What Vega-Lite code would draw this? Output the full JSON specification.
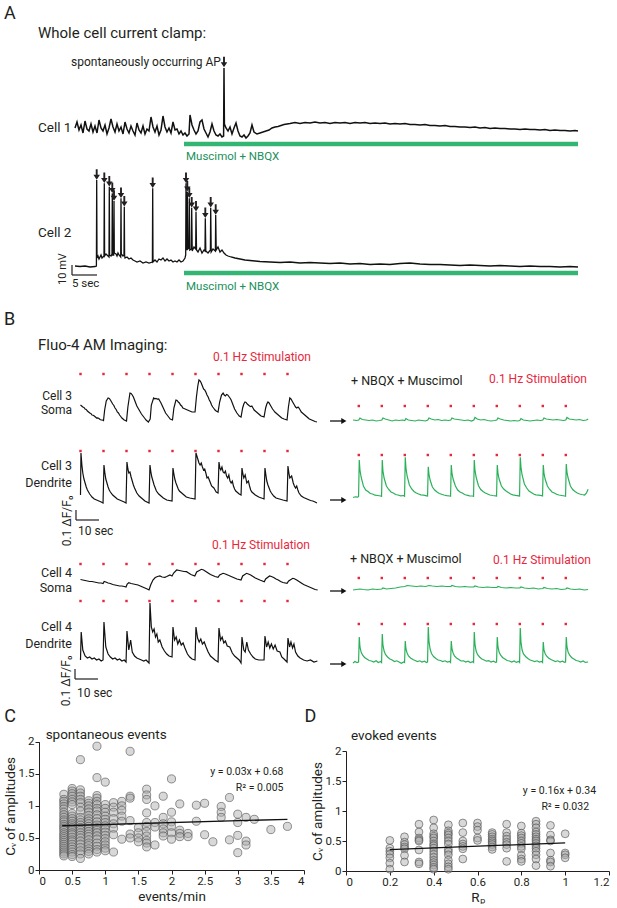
{
"$schema":"https://vega.github.io/schema/vega-lite/v6.json",
"padding":0,"background":"white","bounds":"flush","spacing":0,
"config":{"view":{"stroke":null},"font":"Roboto","concat":{"spacing":0},
"axis":{"domainColor":"#231f20","tickColor":"#231f20","labelColor":"#231f20","titleColor":"#231f20","labelFontSize":11.5,"titleFontSize":13.5,"titleFontWeight":"normal","tickSize":4,"labelPadding":1,"grid":false},
"axisY":{"titlePadding":1},"axisX":{"titlePadding":2.5}},
"datasets":{
"cell1":[{"t":0,"v":2},{"t":0.4,"v":8},{"t":0.8,"v":0},{"t":1.2,"v":5},{"t":1.6,"v":-3},{"t":2,"v":9},{"t":2.4,"v":1},{"t":2.8,"v":-1},{"t":3.2,"v":6},{"t":3.6,"v":-2},{"t":4,"v":4},{"t":4.4,"v":-3},{"t":4.8,"v":10},{"t":5.2,"v":2},{"t":5.6,"v":-1},{"t":6,"v":5},{"t":6.4,"v":-4},{"t":6.8,"v":2},{"t":7.2,"v":11},{"t":7.6,"v":3},{"t":8,"v":-2},{"t":8.4,"v":6},{"t":8.8,"v":-1},{"t":9.2,"v":3},{"t":9.6,"v":-4},{"t":10,"v":8},{"t":10.4,"v":1},{"t":10.8,"v":-3},{"t":11.2,"v":4},{"t":11.6,"v":-1},{"t":12,"v":-5},{"t":12.4,"v":7},{"t":12.8,"v":0},{"t":13.2,"v":-3},{"t":13.6,"v":4},{"t":14,"v":-4},{"t":14.4,"v":1},{"t":14.8,"v":-1},{"t":15.2,"v":13},{"t":15.6,"v":3},{"t":16,"v":-2},{"t":16.4,"v":4},{"t":16.8,"v":-5},{"t":17.2,"v":0},{"t":17.6,"v":14},{"t":18,"v":3},{"t":18.4,"v":-2},{"t":18.8,"v":2},{"t":19.2,"v":-3},{"t":19.6,"v":8},{"t":20,"v":0},{"t":20.4,"v":1},{"t":20.8,"v":-4},{"t":21.2,"v":-1},{"t":21.6,"v":-5},{"t":22,"v":-3},{"t":22.4,"v":-6},{"t":22.8,"v":-4},{"t":23,"v":15},{"t":23.4,"v":5},{"t":23.8,"v":0},{"t":24.2,"v":-4},{"t":24.6,"v":-1},{"t":25,"v":8},{"t":25.4,"v":10},{"t":25.8,"v":1},{"t":26.2,"v":-3},{"t":26.6,"v":-7},{"t":27,"v":-2},{"t":27.4,"v":6},{"t":27.8,"v":-1},{"t":28.2,"v":-5},{"t":28.6,"v":-6},{"t":29,"v":-4},{"t":29.4,"v":-7},{"t":29.72,"v":-6},{"t":29.8,"v":62},{"t":29.88,"v":6},{"t":30.2,"v":2},{"t":30.6,"v":-1},{"t":31,"v":3},{"t":31.4,"v":-4},{"t":31.8,"v":2},{"t":32.2,"v":7},{"t":32.6,"v":-1},{"t":33,"v":-6},{"t":33.4,"v":-7},{"t":33.8,"v":-5},{"t":34.2,"v":-8},{"t":34.6,"v":-6},{"t":35,"v":-3},{"t":35.4,"v":5},{"t":35.8,"v":-2},{"t":36.4,"v":-4},{"t":37,"v":-3},{"t":37.6,"v":-2},{"t":38.2,"v":-1},{"t":38.8,"v":0},{"t":39.4,"v":2},{"t":40,"v":3},{"t":40.6,"v":3.5},{"t":41.2,"v":4.5},{"t":41.8,"v":5.5},{"t":42.4,"v":6},{"t":43,"v":6.5},{"t":44,"v":7.5},{"t":45,"v":6.5},{"t":46,"v":7.5},{"t":47,"v":7},{"t":48,"v":8},{"t":49,"v":7},{"t":50,"v":7.5},{"t":51,"v":6.5},{"t":52,"v":7.5},{"t":53,"v":7},{"t":54,"v":7.5},{"t":55,"v":6.5},{"t":56,"v":7.5},{"t":57,"v":7},{"t":58,"v":7.5},{"t":59,"v":6.5},{"t":60,"v":7},{"t":61,"v":6.5},{"t":62,"v":7},{"t":63,"v":6},{"t":64,"v":6.5},{"t":65,"v":6},{"t":66,"v":6.5},{"t":67,"v":5.5},{"t":68,"v":5.5},{"t":69,"v":5},{"t":70,"v":5.5},{"t":71,"v":4.5},{"t":72,"v":4.5},{"t":73,"v":4},{"t":74,"v":4.5},{"t":75,"v":3.5},{"t":76,"v":3.5},{"t":77,"v":3},{"t":78,"v":3},{"t":79,"v":2.5},{"t":80,"v":3},{"t":81,"v":2},{"t":82,"v":2.5},{"t":83,"v":1.5},{"t":84,"v":2},{"t":85,"v":1.5},{"t":86,"v":1.5},{"t":87,"v":1},{"t":88,"v":1},{"t":89,"v":0.5},{"t":90,"v":1},{"t":91,"v":0.5},{"t":92,"v":0.5},{"t":93,"v":0},{"t":94,"v":0.5},{"t":95,"v":-0.5},{"t":96,"v":0},{"t":97,"v":-0.5},{"t":98,"v":-0.5},{"t":99,"v":-1},{"t":100,"v":-0.5},{"t":100.6,"v":-1}],
"cell2":[{"t":0,"v":0},{"t":1,"v":-0.5},{"t":2,"v":0},{"t":3,"v":-1},{"t":4,"v":-0.5},{"t":4.28,"v":0},{"t":4.34,"v":86},{"t":4.4,"v":8},{"t":4.6,"v":10},{"t":4.8,"v":7},{"t":5,"v":9},{"t":5.2,"v":11},{"t":5.4,"v":8},{"t":5.8,"v":10},{"t":5.86,"v":82.7},{"t":5.92,"v":10},{"t":6.2,"v":12},{"t":6.4,"v":11},{"t":6.8,"v":9},{"t":6.86,"v":79.3},{"t":6.92,"v":11},{"t":7.2,"v":10},{"t":7.4,"v":12},{"t":7.46,"v":72.7},{"t":7.52,"v":11},{"t":7.74,"v":11},{"t":7.8,"v":65},{"t":7.86,"v":13},{"t":8.2,"v":12},{"t":8.4,"v":10},{"t":8.6,"v":13},{"t":8.8,"v":11},{"t":9.14,"v":9},{"t":9.2,"v":67.7},{"t":9.26,"v":12},{"t":9.6,"v":10},{"t":9.8,"v":11},{"t":9.86,"v":59.3},{"t":9.92,"v":11},{"t":10,"v":8},{"t":10.4,"v":9},{"t":10.8,"v":7},{"t":11.2,"v":8},{"t":11.6,"v":6},{"t":12,"v":5},{"t":12.4,"v":4},{"t":13,"v":5},{"t":13.6,"v":3},{"t":14.2,"v":4},{"t":14.8,"v":3},{"t":15.48,"v":4},{"t":15.54,"v":77.7},{"t":15.6,"v":4},{"t":16,"v":6},{"t":16.4,"v":4},{"t":16.8,"v":7},{"t":17.2,"v":6},{"t":17.6,"v":8},{"t":18,"v":5},{"t":18.4,"v":7},{"t":18.8,"v":5},{"t":19.2,"v":6},{"t":19.6,"v":4},{"t":20,"v":5},{"t":20.4,"v":4},{"t":20.8,"v":6},{"t":21.2,"v":4},{"t":21.6,"v":5},{"t":22,"v":8},{"t":22.14,"v":11},{"t":22.2,"v":82.7},{"t":22.3,"v":18},{"t":22.4,"v":16},{"t":22.46,"v":74.3},{"t":22.56,"v":17},{"t":22.8,"v":18},{"t":22.86,"v":67.7},{"t":22.96,"v":16},{"t":23.28,"v":17},{"t":23.34,"v":58.3},{"t":23.44,"v":15},{"t":23.8,"v":19},{"t":24.14,"v":17},{"t":24.2,"v":54.3},{"t":24.3,"v":16},{"t":24.6,"v":14},{"t":25,"v":18},{"t":25.4,"v":13},{"t":25.8,"v":16},{"t":26,"v":15},{"t":26.06,"v":47.7},{"t":26.16,"v":15},{"t":26.6,"v":13},{"t":27.08,"v":16},{"t":27.14,"v":58.3},{"t":27.24,"v":14},{"t":27.6,"v":17},{"t":28.08,"v":15},{"t":28.14,"v":51},{"t":28.24,"v":16},{"t":28.6,"v":19},{"t":29,"v":14},{"t":29.4,"v":16},{"t":29.8,"v":13},{"t":30.2,"v":11},{"t":30.6,"v":10},{"t":31.2,"v":9},{"t":32,"v":8},{"t":33,"v":7},{"t":34,"v":6},{"t":35,"v":5.5},{"t":36,"v":5},{"t":37,"v":4.5},{"t":39,"v":4},{"t":41,"v":3.5},{"t":43,"v":4},{"t":45,"v":3},{"t":47,"v":3.5},{"t":49,"v":3},{"t":51,"v":2.5},{"t":53,"v":3},{"t":55,"v":2},{"t":57,"v":2.5},{"t":59,"v":1.5},{"t":61,"v":2},{"t":63,"v":1.5},{"t":65,"v":2.5},{"t":67,"v":3},{"t":69,"v":2},{"t":71,"v":1.5},{"t":73,"v":1.5},{"t":75,"v":1},{"t":77,"v":0.5},{"t":79,"v":1},{"t":81,"v":0.5},{"t":83,"v":0},{"t":85,"v":0.5},{"t":87,"v":0},{"t":89,"v":-0.5},{"t":91,"v":0},{"t":93,"v":-0.5},{"t":95,"v":-0.5},{"t":97,"v":-1},{"t":99,"v":-0.5},{"t":100.6,"v":-1}],
"ap1":[{"t":29.8,"v":62}],
"ap2":[{"t":4.34,"v":86},{"t":5.86,"v":82.7},{"t":6.86,"v":79.3},{"t":7.46,"v":72.7},{"t":7.8,"v":65},{"t":9.2,"v":67.7},{"t":9.86,"v":59.3},{"t":15.54,"v":77.7},{"t":22.2,"v":82.7},{"t":22.46,"v":74.3},{"t":22.86,"v":67.7},{"t":23.34,"v":58.3},{"t":24.2,"v":54.3},{"t":26.06,"v":47.7},{"t":27.14,"v":58.3},{"t":28.14,"v":51}],
"drug":[{"start":21.8,"end":100.6}],
"stim":[{"t":0,"p":"pre"},{"t":10,"p":"pre"},{"t":20,"p":"pre"},{"t":30,"p":"pre"},{"t":40,"p":"pre"},{"t":50,"p":"pre"},{"t":60,"p":"pre"},{"t":70,"p":"pre"},{"t":80,"p":"pre"},{"t":90,"p":"pre"},{"t":121,"p":"post"},{"t":131,"p":"post"},{"t":141,"p":"post"},{"t":151,"p":"post"},{"t":161,"p":"post"},{"t":171,"p":"post"},{"t":181,"p":"post"},{"t":191,"p":"post"},{"t":201,"p":"post"},{"t":211,"p":"post"}],
"c3s":[{"t":0,"f":0.17},{"t":0.5,"f":0.16},{"t":1,"f":0.15},{"t":1.5,"f":0.145},{"t":2,"f":0.13},{"t":2.5,"f":0.125},{"t":3,"f":0.11},{"t":3.5,"f":0.1},{"t":4,"f":0.09},{"t":4.5,"f":0.085},{"t":5,"f":0.07},{"t":5.5,"f":0.068},{"t":6,"f":0.06},{"t":6.5,"f":0.05},{"t":7,"f":0.04},{"t":7.5,"f":0.042},{"t":8,"f":0.035},{"t":8.5,"f":0.025},{"t":9,"f":0.02},{"t":9.5,"f":0.02},{"t":10,"f":0.015},{"t":10.5,"f":0.12},{"t":11.2,"f":0.21},{"t":12,"f":0.24},{"t":12.5,"f":0.235},{"t":13,"f":0.22},{"t":13.5,"f":0.2},{"t":14,"f":0.18},{"t":14.5,"f":0.165},{"t":15,"f":0.14},{"t":15.5,"f":0.125},{"t":16,"f":0.1},{"t":16.5,"f":0.09},{"t":17,"f":0.07},{"t":17.5,"f":0.055},{"t":18,"f":0.04},{"t":18.5,"f":0.03},{"t":19,"f":0.02},{"t":19.5,"f":0.015},{"t":20,"f":0.01},{"t":20.6,"f":0.15},{"t":21.5,"f":0.29},{"t":22,"f":0.285},{"t":22.5,"f":0.27},{"t":23,"f":0.25},{"t":23.5,"f":0.22},{"t":24,"f":0.19},{"t":24.5,"f":0.16},{"t":25,"f":0.14},{"t":25.5,"f":0.12},{"t":26,"f":0.1},{"t":26.5,"f":0.08},{"t":27,"f":0.065},{"t":27.5,"f":0.05},{"t":28,"f":0.035},{"t":28.5,"f":0.02},{"t":29,"f":0.01},{"t":29.5,"f":0},{"t":30.3,"f":0.03},{"t":30.8,"f":0.17},{"t":31.8,"f":0.24},{"t":32.3,"f":0.232},{"t":32.8,"f":0.235},{"t":33.4,"f":0.228},{"t":34,"f":0.23},{"t":34.5,"f":0.21},{"t":35,"f":0.19},{"t":35.5,"f":0.165},{"t":36,"f":0.14},{"t":36.5,"f":0.115},{"t":37,"f":0.09},{"t":37.5,"f":0.075},{"t":38,"f":0.06},{"t":38.5,"f":0.045},{"t":39,"f":0.03},{"t":39.5,"f":0.025},{"t":40,"f":0.02},{"t":40.6,"f":0.14},{"t":41.5,"f":0.22},{"t":42,"f":0.215},{"t":42.5,"f":0.2},{"t":43,"f":0.19},{"t":43.5,"f":0.17},{"t":44,"f":0.16},{"t":44.5,"f":0.14},{"t":45,"f":0.135},{"t":45.5,"f":0.13},{"t":46,"f":0.125},{"t":46.5,"f":0.12},{"t":47,"f":0.115},{"t":47.5,"f":0.11},{"t":48,"f":0.105},{"t":48.5,"f":0.1},{"t":49.2,"f":0.1},{"t":49.8,"f":0.1},{"t":50.4,"f":0.25},{"t":51,"f":0.36},{"t":51.5,"f":0.42},{"t":52,"f":0.41},{"t":52.5,"f":0.39},{"t":53,"f":0.36},{"t":53.5,"f":0.33},{"t":54,"f":0.32},{"t":54.5,"f":0.3},{"t":55,"f":0.27},{"t":55.5,"f":0.25},{"t":56,"f":0.22},{"t":56.5,"f":0.2},{"t":57,"f":0.17},{"t":57.5,"f":0.15},{"t":58,"f":0.135},{"t":58.5,"f":0.12},{"t":59,"f":0.11},{"t":59.8,"f":0.1},{"t":60.5,"f":0.2},{"t":61.3,"f":0.27},{"t":62,"f":0.29},{"t":62.5,"f":0.27},{"t":63,"f":0.26},{"t":63.5,"f":0.275},{"t":64,"f":0.27},{"t":64.5,"f":0.255},{"t":65,"f":0.24},{"t":65.5,"f":0.22},{"t":66,"f":0.19},{"t":66.5,"f":0.16},{"t":67,"f":0.13},{"t":67.5,"f":0.11},{"t":68,"f":0.09},{"t":68.5,"f":0.075},{"t":69,"f":0.06},{"t":69.8,"f":0.05},{"t":70.5,"f":0.14},{"t":71,"f":0.18},{"t":71.5,"f":0.2},{"t":72,"f":0.195},{"t":72.5,"f":0.18},{"t":73,"f":0.17},{"t":73.5,"f":0.16},{"t":74,"f":0.155},{"t":74.5,"f":0.16},{"t":75,"f":0.14},{"t":75.5,"f":0.12},{"t":76,"f":0.11},{"t":76.5,"f":0.1},{"t":77,"f":0.09},{"t":77.5,"f":0.08},{"t":78,"f":0.07},{"t":78.5,"f":0.06},{"t":79.2,"f":0.055},{"t":79.8,"f":0.05},{"t":80.5,"f":0.14},{"t":81,"f":0.18},{"t":81.5,"f":0.2},{"t":82,"f":0.19},{"t":82.5,"f":0.17},{"t":83,"f":0.15},{"t":83.5,"f":0.13},{"t":84,"f":0.115},{"t":84.5,"f":0.1},{"t":85,"f":0.09},{"t":85.5,"f":0.08},{"t":86,"f":0.07},{"t":86.5,"f":0.06},{"t":87,"f":0.05},{"t":87.5,"f":0.04},{"t":88,"f":0.035},{"t":88.5,"f":0.03},{"t":89.2,"f":0.025},{"t":89.8,"f":0.02},{"t":90.4,"f":0.15},{"t":91,"f":0.24},{"t":91.5,"f":0.23},{"t":92,"f":0.21},{"t":92.5,"f":0.19},{"t":93,"f":0.17},{"t":93.5,"f":0.15},{"t":94,"f":0.14},{"t":94.6,"f":0.15},{"t":95,"f":0.14},{"t":95.5,"f":0.12},{"t":96,"f":0.1},{"t":96.5,"f":0.09},{"t":97,"f":0.08},{"t":97.5,"f":0.07},{"t":98,"f":0.06},{"t":98.5,"f":0.05},{"t":99,"f":0.04},{"t":99.5,"f":0.03},{"t":100,"f":0.025},{"t":100.5,"f":0.02},{"t":101,"f":0.015},{"t":101.5,"f":0.01},{"t":102,"f":0.005},{"t":102.8,"f":0}],
"c3d":[{"t":0,"f":0.08},{"t":0.2,"f":0.5},{"t":0.6,"f":0.38},{"t":1,"f":0.3},{"t":1.5,"f":0.24},{"t":2,"f":0.2},{"t":2.5,"f":0.16},{"t":3,"f":0.13},{"t":3.5,"f":0.11},{"t":4,"f":0.09},{"t":4.5,"f":0.075},{"t":5,"f":0.06},{"t":6,"f":0.04},{"t":7,"f":0.03},{"t":8,"f":0.02},{"t":9,"f":0.01},{"t":9.8,"f":0},{"t":10.2,"f":0.38},{"t":10.6,"f":0.3},{"t":11,"f":0.24},{"t":11.5,"f":0.2},{"t":12,"f":0.16},{"t":12.5,"f":0.13},{"t":13,"f":0.11},{"t":14,"f":0.08},{"t":15,"f":0.06},{"t":16,"f":0.04},{"t":17,"f":0.03},{"t":18,"f":0.02},{"t":19,"f":0.01},{"t":19.8,"f":0},{"t":20.2,"f":0.41},{"t":20.6,"f":0.34},{"t":21,"f":0.3},{"t":21.5,"f":0.31},{"t":22,"f":0.26},{"t":22.5,"f":0.22},{"t":23,"f":0.18},{"t":23.5,"f":0.15},{"t":24.5,"f":0.1},{"t":25.5,"f":0.07},{"t":26.5,"f":0.05},{"t":28,"f":0.02},{"t":29.8,"f":0},{"t":30.2,"f":0.38},{"t":30.6,"f":0.31},{"t":31,"f":0.26},{"t":31.5,"f":0.22},{"t":32,"f":0.18},{"t":32.5,"f":0.15},{"t":33,"f":0.12},{"t":34,"f":0.09},{"t":35,"f":0.07},{"t":36,"f":0.05},{"t":37.5,"f":0.03},{"t":39.8,"f":0.02},{"t":40.2,"f":0.35},{"t":40.6,"f":0.29},{"t":41,"f":0.24},{"t":41.5,"f":0.2},{"t":42,"f":0.17},{"t":42.5,"f":0.14},{"t":43,"f":0.12},{"t":44,"f":0.1},{"t":45,"f":0.08},{"t":46,"f":0.06},{"t":47.5,"f":0.05},{"t":49.8,"f":0.04},{"t":50.2,"f":0.5},{"t":50.6,"f":0.47},{"t":51,"f":0.44},{"t":51.5,"f":0.4},{"t":52,"f":0.38},{"t":52.5,"f":0.4},{"t":53,"f":0.36},{"t":53.5,"f":0.33},{"t":54,"f":0.34},{"t":54.5,"f":0.3},{"t":55,"f":0.25},{"t":55.5,"f":0.26},{"t":56,"f":0.23},{"t":56.5,"f":0.2},{"t":57,"f":0.17},{"t":57.5,"f":0.16},{"t":58,"f":0.15},{"t":58.5,"f":0.13},{"t":59,"f":0.11},{"t":59.8,"f":0.1},{"t":60.2,"f":0.41},{"t":60.6,"f":0.35},{"t":61,"f":0.33},{"t":61.5,"f":0.36},{"t":62,"f":0.31},{"t":62.5,"f":0.3},{"t":63,"f":0.32},{"t":63.5,"f":0.27},{"t":64,"f":0.25},{"t":64.5,"f":0.28},{"t":65,"f":0.22},{"t":65.5,"f":0.2},{"t":66,"f":0.22},{"t":66.5,"f":0.17},{"t":67,"f":0.14},{"t":67.5,"f":0.12},{"t":68,"f":0.11},{"t":69,"f":0.09},{"t":69.8,"f":0.08},{"t":70.2,"f":0.35},{"t":70.6,"f":0.29},{"t":71,"f":0.25},{"t":71.6,"f":0.28},{"t":72.3,"f":0.2},{"t":73,"f":0.22},{"t":73.5,"f":0.17},{"t":74,"f":0.13},{"t":74.5,"f":0.11},{"t":75,"f":0.1},{"t":76,"f":0.08},{"t":77.5,"f":0.06},{"t":79.8,"f":0.04},{"t":80.2,"f":0.35},{"t":80.6,"f":0.28},{"t":81,"f":0.22},{"t":81.5,"f":0.18},{"t":82,"f":0.15},{"t":82.5,"f":0.12},{"t":83,"f":0.1},{"t":84,"f":0.07},{"t":85,"f":0.05},{"t":86.5,"f":0.04},{"t":88,"f":0.03},{"t":89.8,"f":0.02},{"t":90.2,"f":0.37},{"t":90.6,"f":0.3},{"t":91,"f":0.25},{"t":91.8,"f":0.27},{"t":92.5,"f":0.2},{"t":93,"f":0.17},{"t":93.5,"f":0.15},{"t":94,"f":0.17},{"t":94.5,"f":0.13},{"t":95,"f":0.1},{"t":96,"f":0.07},{"t":97,"f":0.055},{"t":98,"f":0.045},{"t":99,"f":0.035},{"t":100,"f":0.025},{"t":101,"f":0.02},{"t":102,"f":0.01},{"t":102.8,"f":0}],
"c4s":[{"t":0,"f":0.105},{"t":1,"f":0.1},{"t":2,"f":0.095},{"t":3,"f":0.09},{"t":4,"f":0.085},{"t":5,"f":0.085},{"t":6,"f":0.08},{"t":7,"f":0.075},{"t":8,"f":0.07},{"t":9,"f":0.07},{"t":9.8,"f":0.065},{"t":10.3,"f":0.085},{"t":11,"f":0.08},{"t":12,"f":0.07},{"t":13,"f":0.065},{"t":14,"f":0.055},{"t":15,"f":0.05},{"t":16,"f":0.045},{"t":17,"f":0.04},{"t":18,"f":0.04},{"t":19,"f":0.035},{"t":19.8,"f":0.03},{"t":20.3,"f":0.06},{"t":21,"f":0.073},{"t":22,"f":0.065},{"t":23,"f":0.06},{"t":24,"f":0.055},{"t":25,"f":0.05},{"t":26,"f":0.04},{"t":27,"f":0.03},{"t":28,"f":0.02},{"t":29,"f":0.01},{"t":29.8,"f":0},{"t":30.5,"f":0.05},{"t":31.5,"f":0.1},{"t":32.5,"f":0.125},{"t":33.5,"f":0.135},{"t":34.5,"f":0.14},{"t":35.5,"f":0.13},{"t":36.7,"f":0.127},{"t":37.5,"f":0.135},{"t":38.9,"f":0.15},{"t":39.8,"f":0.14},{"t":40.5,"f":0.17},{"t":41.8,"f":0.2},{"t":43,"f":0.195},{"t":44,"f":0.19},{"t":45,"f":0.185},{"t":46.1,"f":0.183},{"t":47,"f":0.17},{"t":48,"f":0.155},{"t":49.7,"f":0.14},{"t":50.5,"f":0.18},{"t":52.6,"f":0.207},{"t":53.5,"f":0.2},{"t":54.5,"f":0.185},{"t":55.5,"f":0.17},{"t":56.5,"f":0.155},{"t":57.5,"f":0.145},{"t":58.5,"f":0.135},{"t":59.8,"f":0.127},{"t":60.5,"f":0.15},{"t":62,"f":0.167},{"t":63,"f":0.16},{"t":64,"f":0.15},{"t":65,"f":0.14},{"t":66,"f":0.13},{"t":67,"f":0.12},{"t":68,"f":0.11},{"t":69.8,"f":0.1},{"t":70.5,"f":0.14},{"t":72.2,"f":0.167},{"t":73,"f":0.16},{"t":74,"f":0.15},{"t":75,"f":0.135},{"t":76,"f":0.12},{"t":77,"f":0.11},{"t":78,"f":0.1},{"t":79.9,"f":0.083},{"t":80.5,"f":0.11},{"t":82.2,"f":0.14},{"t":83,"f":0.135},{"t":84,"f":0.125},{"t":85,"f":0.11},{"t":86,"f":0.1},{"t":87,"f":0.085},{"t":88,"f":0.075},{"t":89.8,"f":0.067},{"t":90.5,"f":0.09},{"t":92.3,"f":0.117},{"t":93,"f":0.112},{"t":94,"f":0.1},{"t":95,"f":0.085},{"t":96,"f":0.07},{"t":97,"f":0.055},{"t":98,"f":0.045},{"t":99,"f":0.035},{"t":100,"f":0.025},{"t":101,"f":0.015},{"t":102,"f":0.005},{"t":103.1,"f":0}],
"c4d":[{"t":0,"f":0.02},{"t":0.3,"f":0.3},{"t":1,"f":0.12},{"t":2,"f":0.06},{"t":3,"f":0.04},{"t":4,"f":0.05},{"t":5,"f":0.03},{"t":6,"f":0.04},{"t":7,"f":0.02},{"t":8,"f":0.03},{"t":9,"f":0.01},{"t":9.8,"f":0.02},{"t":10.2,"f":0.4},{"t":11,"f":0.15},{"t":12,"f":0.08},{"t":13,"f":0.05},{"t":14,"f":0.03},{"t":15,"f":0.04},{"t":16,"f":0.02},{"t":17,"f":0.03},{"t":18,"f":0.01},{"t":19,"f":0.02},{"t":19.8,"f":0},{"t":20.2,"f":0.31},{"t":21,"f":0.12},{"t":21.8,"f":0.22},{"t":22.5,"f":0.1},{"t":23.5,"f":0.06},{"t":24.5,"f":0.04},{"t":25.5,"f":0.03},{"t":26.5,"f":0.02},{"t":27.5,"f":0.01},{"t":28.5,"f":0.02},{"t":29.8,"f":-0.01},{"t":30.2,"f":0.59},{"t":30.8,"f":0.35},{"t":31.4,"f":0.3},{"t":32,"f":0.33},{"t":32.6,"f":0.25},{"t":33.2,"f":0.28},{"t":33.8,"f":0.2},{"t":34.5,"f":0.22},{"t":35.5,"f":0.15},{"t":36.5,"f":0.11},{"t":37.5,"f":0.08},{"t":38.5,"f":0.06},{"t":39.8,"f":0.05},{"t":40.2,"f":0.35},{"t":40.9,"f":0.22},{"t":41.6,"f":0.25},{"t":42.3,"f":0.18},{"t":43,"f":0.22},{"t":43.8,"f":0.17},{"t":44.6,"f":0.19},{"t":45.4,"f":0.14},{"t":46.5,"f":0.08},{"t":47.5,"f":0.05},{"t":48.5,"f":0.03},{"t":49.8,"f":0.02},{"t":50.2,"f":0.35},{"t":50.9,"f":0.24},{"t":51.6,"f":0.2},{"t":52.3,"f":0.23},{"t":53,"f":0.18},{"t":53.8,"f":0.2},{"t":54.6,"f":0.15},{"t":55.5,"f":0.1},{"t":56.5,"f":0.06},{"t":57.5,"f":0.04},{"t":58.5,"f":0.02},{"t":59.8,"f":0},{"t":60.2,"f":0.34},{"t":60.9,"f":0.22},{"t":61.6,"f":0.25},{"t":62.3,"f":0.19},{"t":63,"f":0.21},{"t":63.8,"f":0.16},{"t":64.9,"f":0.15},{"t":66,"f":0.09},{"t":67,"f":0.06},{"t":68,"f":0.04},{"t":69,"f":0.02},{"t":69.8,"f":-0.01},{"t":70.2,"f":0.25},{"t":71,"f":0.12},{"t":71.6,"f":0.1},{"t":72.3,"f":0.2},{"t":73,"f":0.12},{"t":74,"f":0.08},{"t":75,"f":0.05},{"t":76,"f":0.03},{"t":77.5,"f":0.02},{"t":79.8,"f":0.02},{"t":80.2,"f":0.26},{"t":80.9,"f":0.15},{"t":81.6,"f":0.2},{"t":82.3,"f":0.14},{"t":83,"f":0.18},{"t":83.8,"f":0.13},{"t":84.6,"f":0.17},{"t":85.5,"f":0.11},{"t":86.7,"f":0.1},{"t":87.5,"f":0.05},{"t":88.5,"f":0.03},{"t":89.8,"f":0},{"t":90.2,"f":0.24},{"t":90.9,"f":0.15},{"t":91.5,"f":0.2},{"t":92.2,"f":0.14},{"t":92.8,"f":0.18},{"t":93.5,"f":0.1},{"t":94.5,"f":0.06},{"t":95.5,"f":0.04},{"t":97,"f":0.02},{"t":98.5,"f":0.01},{"t":100,"f":0.02},{"t":101.5,"f":0},{"t":103,"f":0.01}],
"g3s":[{"t":118.5,"f":0.02},{"t":120,"f":0.015},{"t":121,"f":0.02},{"t":121.5,"f":0.04},{"t":122.5,"f":0.025},{"t":124,"f":0.02},{"t":125.5,"f":0.015},{"t":127,"f":0.02},{"t":128.5,"f":0.01},{"t":130,"f":0.015},{"t":131,"f":0.02},{"t":131.5,"f":0.04},{"t":132.5,"f":0.03},{"t":134,"f":0.02},{"t":135.5,"f":0.01},{"t":137,"f":0.02},{"t":138.5,"f":0.015},{"t":140,"f":0.02},{"t":141,"f":0.015},{"t":141.5,"f":0.035},{"t":142.5,"f":0.02},{"t":144,"f":0.015},{"t":145.5,"f":0.01},{"t":147,"f":0.02},{"t":148.5,"f":0.015},{"t":150,"f":0.01},{"t":151,"f":0.02},{"t":151.5,"f":0.04},{"t":152.5,"f":0.03},{"t":154,"f":0.02},{"t":155.5,"f":0.025},{"t":157,"f":0.015},{"t":158.5,"f":0.02},{"t":160,"f":0.015},{"t":161,"f":0.02},{"t":161.5,"f":0.04},{"t":162.5,"f":0.03},{"t":164,"f":0.025},{"t":165.5,"f":0.02},{"t":167,"f":0.015},{"t":168.5,"f":0.02},{"t":170,"f":0.01},{"t":171,"f":0.02},{"t":171.5,"f":0.045},{"t":172.5,"f":0.03},{"t":174,"f":0.02},{"t":175.5,"f":0.025},{"t":177,"f":0.015},{"t":178.5,"f":0.01},{"t":180,"f":0.015},{"t":181,"f":0.02},{"t":181.5,"f":0.04},{"t":182.5,"f":0.03},{"t":184,"f":0.02},{"t":185.5,"f":0.015},{"t":187,"f":0.01},{"t":188.5,"f":0.015},{"t":190,"f":0.01},{"t":191,"f":0.015},{"t":191.5,"f":0.035},{"t":192.5,"f":0.02},{"t":194,"f":0.015},{"t":195.5,"f":0.01},{"t":197,"f":0.015},{"t":198.5,"f":0.02},{"t":200,"f":0.015},{"t":201,"f":0.02},{"t":201.5,"f":0.04},{"t":202.5,"f":0.03},{"t":204,"f":0.025},{"t":205.5,"f":0.02},{"t":207,"f":0.025},{"t":208.5,"f":0.02},{"t":210,"f":0.015},{"t":211,"f":0.02},{"t":211.5,"f":0.045},{"t":212.5,"f":0.03},{"t":214,"f":0.025},{"t":215.5,"f":0.02},{"t":217,"f":0.025},{"t":218.5,"f":0.015},{"t":220,"f":0.02},{"t":220.7,"f":0.03}],
"g3d":[{"t":118.5,"f":0.055},{"t":119.5,"f":0.062},{"t":120.5,"f":0.058},{"t":120.9,"f":0.065},{"t":121.2,"f":0.43},{"t":121.5,"f":0.33},{"t":122,"f":0.26},{"t":123,"f":0.17},{"t":124,"f":0.13},{"t":125,"f":0.115},{"t":126,"f":0.095},{"t":127,"f":0.09},{"t":128,"f":0.078},{"t":129.2,"f":0.075},{"t":130.5,"f":0.07},{"t":130.9,"f":0.066},{"t":131.2,"f":0.43},{"t":131.5,"f":0.32},{"t":132,"f":0.25},{"t":133,"f":0.17},{"t":134,"f":0.135},{"t":135,"f":0.11},{"t":136,"f":0.1},{"t":137,"f":0.085},{"t":138,"f":0.08},{"t":139.2,"f":0.072},{"t":140.5,"f":0.075},{"t":140.9,"f":0.068},{"t":141.2,"f":0.457},{"t":141.5,"f":0.35},{"t":142,"f":0.27},{"t":143,"f":0.18},{"t":144,"f":0.14},{"t":145,"f":0.115},{"t":146,"f":0.1},{"t":147,"f":0.09},{"t":148,"f":0.082},{"t":149.2,"f":0.078},{"t":150.5,"f":0.072},{"t":150.9,"f":0.07},{"t":151.2,"f":0.363},{"t":151.5,"f":0.29},{"t":152,"f":0.23},{"t":153,"f":0.16},{"t":154,"f":0.13},{"t":155,"f":0.11},{"t":156,"f":0.095},{"t":157,"f":0.088},{"t":158,"f":0.08},{"t":159.2,"f":0.074},{"t":160.5,"f":0.07},{"t":160.9,"f":0.067},{"t":161.2,"f":0.38},{"t":161.5,"f":0.3},{"t":162,"f":0.24},{"t":163,"f":0.17},{"t":164,"f":0.13},{"t":165,"f":0.11},{"t":166,"f":0.1},{"t":167,"f":0.085},{"t":168,"f":0.078},{"t":169.2,"f":0.072},{"t":170.5,"f":0.07},{"t":170.9,"f":0.066},{"t":171.2,"f":0.43},{"t":171.5,"f":0.33},{"t":172,"f":0.26},{"t":173,"f":0.175},{"t":174,"f":0.135},{"t":175,"f":0.115},{"t":176,"f":0.1},{"t":177,"f":0.09},{"t":178,"f":0.08},{"t":179.2,"f":0.075},{"t":180.5,"f":0.072},{"t":180.9,"f":0.068},{"t":181.2,"f":0.38},{"t":181.5,"f":0.3},{"t":182,"f":0.24},{"t":183,"f":0.17},{"t":184,"f":0.14},{"t":185,"f":0.12},{"t":186,"f":0.105},{"t":187,"f":0.09},{"t":188,"f":0.082},{"t":189.2,"f":0.076},{"t":190.5,"f":0.072},{"t":190.9,"f":0.068},{"t":191.2,"f":0.457},{"t":191.5,"f":0.36},{"t":192,"f":0.28},{"t":193,"f":0.19},{"t":194,"f":0.15},{"t":195,"f":0.12},{"t":196,"f":0.105},{"t":197,"f":0.09},{"t":198,"f":0.082},{"t":199.2,"f":0.078},{"t":200.5,"f":0.073},{"t":200.9,"f":0.07},{"t":201.2,"f":0.38},{"t":201.5,"f":0.3},{"t":202,"f":0.24},{"t":203,"f":0.17},{"t":204,"f":0.135},{"t":205,"f":0.11},{"t":206,"f":0.1},{"t":207,"f":0.088},{"t":208,"f":0.08},{"t":209.2,"f":0.075},{"t":210.5,"f":0.07},{"t":210.9,"f":0.067},{"t":211.2,"f":0.39},{"t":211.5,"f":0.31},{"t":212,"f":0.25},{"t":213,"f":0.17},{"t":214,"f":0.135},{"t":215,"f":0.115},{"t":216,"f":0.1},{"t":217,"f":0.09},{"t":218,"f":0.085},{"t":219.2,"f":0.08},{"t":220,"f":0.1},{"t":220.7,"f":0.137}],
"g4s":[{"t":118.5,"f":0},{"t":120,"f":0.005},{"t":121.5,"f":0.01},{"t":123,"f":0.005},{"t":125,"f":0},{"t":127,"f":0.01},{"t":129,"f":0.005},{"t":131,"f":0.01},{"t":131.5,"f":0.02},{"t":133,"f":0.01},{"t":135,"f":0.015},{"t":137,"f":0.02},{"t":139,"f":0.03},{"t":141,"f":0.035},{"t":142,"f":0.045},{"t":144,"f":0.04},{"t":146,"f":0.035},{"t":148,"f":0.04},{"t":150,"f":0.035},{"t":151.5,"f":0.045},{"t":153,"f":0.04},{"t":155,"f":0.035},{"t":157,"f":0.04},{"t":159,"f":0.035},{"t":161,"f":0.035},{"t":161.5,"f":0.045},{"t":163,"f":0.035},{"t":165,"f":0.03},{"t":167,"f":0.035},{"t":169,"f":0.03},{"t":171,"f":0.03},{"t":171.5,"f":0.04},{"t":173,"f":0.03},{"t":175,"f":0.025},{"t":177,"f":0.03},{"t":179,"f":0.025},{"t":181,"f":0.025},{"t":181.5,"f":0.035},{"t":183,"f":0.025},{"t":185,"f":0.02},{"t":187,"f":0.025},{"t":189,"f":0.02},{"t":191,"f":0.02},{"t":191.5,"f":0.03},{"t":193,"f":0.02},{"t":195,"f":0.015},{"t":197,"f":0.02},{"t":199,"f":0.01},{"t":201,"f":0.015},{"t":201.5,"f":0.025},{"t":203,"f":0.015},{"t":205,"f":0.01},{"t":207,"f":0.015},{"t":209,"f":0.005},{"t":211,"f":0.01},{"t":211.5,"f":0.02},{"t":213,"f":0.01},{"t":215,"f":0.005},{"t":217,"f":0.01},{"t":219,"f":0},{"t":220.7,"f":0.005}],
"g4d":[{"t":118.5,"f":-0.01},{"t":119.3,"f":0.005},{"t":120.2,"f":-0.005},{"t":120.9,"f":0},{"t":121.2,"f":0.25},{"t":121.5,"f":0.15},{"t":122,"f":0.1},{"t":122.6,"f":0.07},{"t":123.5,"f":0.045},{"t":124.5,"f":0.03},{"t":125.5,"f":0.015},{"t":126.5,"f":0.01},{"t":127.5,"f":0},{"t":128.5,"f":0.012},{"t":129.5,"f":-0.005},{"t":130.5,"f":0.005},{"t":130.9,"f":-0.005},{"t":131.2,"f":0.28},{"t":131.5,"f":0.17},{"t":132,"f":0.11},{"t":132.6,"f":0.075},{"t":133.5,"f":0.05},{"t":134.5,"f":0.03},{"t":135.5,"f":0.02},{"t":136.5,"f":0.005},{"t":137.5,"f":0.012},{"t":138.5,"f":0},{"t":139.5,"f":-0.012},{"t":140.5,"f":0},{"t":140.9,"f":-0.005},{"t":141.2,"f":0.21},{"t":141.5,"f":0.13},{"t":142,"f":0.09},{"t":142.6,"f":0.06},{"t":143.5,"f":0.04},{"t":144.5,"f":0.025},{"t":145.5,"f":0.015},{"t":146.5,"f":0.005},{"t":147.5,"f":0.012},{"t":148.5,"f":0},{"t":149.5,"f":0.008},{"t":150.5,"f":-0.005},{"t":150.9,"f":0},{"t":151.2,"f":0.35},{"t":151.5,"f":0.21},{"t":152,"f":0.13},{"t":152.6,"f":0.085},{"t":153.5,"f":0.055},{"t":154.5,"f":0.035},{"t":155.5,"f":0.02},{"t":156.5,"f":0.015},{"t":157.5,"f":0.005},{"t":158.5,"f":0.012},{"t":159.5,"f":0},{"t":160.5,"f":0.006},{"t":160.9,"f":-0.005},{"t":161.2,"f":0.21},{"t":161.5,"f":0.13},{"t":162,"f":0.09},{"t":162.6,"f":0.06},{"t":163.5,"f":0.04},{"t":164.5,"f":0.025},{"t":165.5,"f":0.01},{"t":166.5,"f":0.012},{"t":167.5,"f":0},{"t":168.5,"f":0.008},{"t":169.5,"f":-0.006},{"t":170.5,"f":0.004},{"t":170.9,"f":-0.004},{"t":171.2,"f":0.3},{"t":171.5,"f":0.18},{"t":172,"f":0.11},{"t":172.6,"f":0.075},{"t":173.5,"f":0.05},{"t":174.5,"f":0.03},{"t":175.5,"f":0.02},{"t":176.5,"f":0.008},{"t":177.5,"f":0.014},{"t":178.5,"f":0},{"t":179.5,"f":0.008},{"t":180.5,"f":-0.004},{"t":180.9,"f":0},{"t":181.2,"f":0.25},{"t":181.5,"f":0.15},{"t":182,"f":0.1},{"t":182.6,"f":0.07},{"t":183.5,"f":0.045},{"t":184.5,"f":0.03},{"t":185.5,"f":0.015},{"t":186.5,"f":0.01},{"t":187.5,"f":0},{"t":188.5,"f":0.01},{"t":189.5,"f":-0.004},{"t":190.5,"f":0.006},{"t":190.9,"f":-0.004},{"t":191.2,"f":0.34},{"t":191.5,"f":0.2},{"t":192,"f":0.12},{"t":192.6,"f":0.08},{"t":193.5,"f":0.055},{"t":194.5,"f":0.035},{"t":195.5,"f":0.02},{"t":196.5,"f":0.012},{"t":197.5,"f":0.004},{"t":198.5,"f":0.012},{"t":199.5,"f":0},{"t":200.5,"f":0.006},{"t":200.9,"f":-0.004},{"t":201.2,"f":0.2},{"t":201.5,"f":0.12},{"t":202,"f":0.085},{"t":202.6,"f":0.06},{"t":203.5,"f":0.04},{"t":204.5,"f":0.025},{"t":205.5,"f":0.015},{"t":206.5,"f":0.005},{"t":207.5,"f":0.012},{"t":208.5,"f":0},{"t":209.5,"f":0.008},{"t":210.5,"f":-0.004},{"t":210.9,"f":0},{"t":211.2,"f":0.25},{"t":211.5,"f":0.15},{"t":212,"f":0.1},{"t":212.6,"f":0.07},{"t":213.5,"f":0.045},{"t":214.5,"f":0.03},{"t":215.5,"f":0.015},{"t":216.5,"f":0.01},{"t":217.5,"f":0},{"t":218.5,"f":0.01},{"t":219.5,"f":-0.004},{"t":220.7,"f":0}],
"spont":[{"r":0.375,"cv":1.18},{"r":0.375,"cv":1.1},{"r":0.375,"cv":1.07},{"r":0.375,"cv":1.03},{"r":0.375,"cv":0.99},{"r":0.375,"cv":0.95},{"r":0.375,"cv":0.9},{"r":0.375,"cv":0.86},{"r":0.375,"cv":0.82},{"r":0.375,"cv":0.78},{"r":0.375,"cv":0.75},{"r":0.375,"cv":0.71},{"r":0.375,"cv":0.68},{"r":0.375,"cv":0.65},{"r":0.375,"cv":0.62},{"r":0.375,"cv":0.58},{"r":0.375,"cv":0.55},{"r":0.375,"cv":0.52},{"r":0.375,"cv":0.49},{"r":0.375,"cv":0.46},{"r":0.375,"cv":0.43},{"r":0.375,"cv":0.4},{"r":0.375,"cv":0.37},{"r":0.375,"cv":0.34},{"r":0.375,"cv":0.31},{"r":0.375,"cv":0.28},{"r":0.375,"cv":0.25},{"r":0.375,"cv":0.22},
{"r":0.5,"cv":1.27},{"r":0.5,"cv":1.23},{"r":0.5,"cv":1.19},{"r":0.5,"cv":1.15},{"r":0.5,"cv":1.1},{"r":0.5,"cv":1.06},{"r":0.5,"cv":1.02},{"r":0.5,"cv":0.88},{"r":0.5,"cv":0.84},{"r":0.5,"cv":0.8},{"r":0.5,"cv":0.76},{"r":0.5,"cv":0.72},{"r":0.5,"cv":0.69},{"r":0.5,"cv":0.66},{"r":0.5,"cv":0.62},{"r":0.5,"cv":0.58},{"r":0.5,"cv":0.55},{"r":0.5,"cv":0.51},{"r":0.5,"cv":0.47},{"r":0.5,"cv":0.44},{"r":0.5,"cv":0.4},{"r":0.5,"cv":0.36},{"r":0.5,"cv":0.32},{"r":0.5,"cv":0.28},{"r":0.5,"cv":0.24},{"r":0.5,"cv":0.21},
{"r":0.625,"cv":1.72},{"r":0.625,"cv":1.25},{"r":0.625,"cv":1.2},{"r":0.625,"cv":1.15},{"r":0.625,"cv":1.1},{"r":0.625,"cv":1.05},{"r":0.625,"cv":0.98},{"r":0.625,"cv":0.92},{"r":0.625,"cv":0.82},{"r":0.625,"cv":0.78},{"r":0.625,"cv":0.74},{"r":0.625,"cv":0.7},{"r":0.625,"cv":0.66},{"r":0.625,"cv":0.62},{"r":0.625,"cv":0.58},{"r":0.625,"cv":0.54},{"r":0.625,"cv":0.5},{"r":0.625,"cv":0.45},{"r":0.625,"cv":0.4},{"r":0.625,"cv":0.35},{"r":0.625,"cv":0.3},{"r":0.625,"cv":0.25},{"r":0.625,"cv":0.18},
{"r":0.75,"cv":1.08},{"r":0.75,"cv":1.04},{"r":0.75,"cv":1},{"r":0.75,"cv":0.95},{"r":0.75,"cv":0.9},{"r":0.75,"cv":0.85},{"r":0.75,"cv":0.8},{"r":0.75,"cv":0.76},{"r":0.75,"cv":0.72},{"r":0.75,"cv":0.68},{"r":0.75,"cv":0.64},{"r":0.75,"cv":0.6},{"r":0.75,"cv":0.56},{"r":0.75,"cv":0.52},{"r":0.75,"cv":0.47},{"r":0.75,"cv":0.42},{"r":0.75,"cv":0.38},{"r":0.75,"cv":0.33},{"r":0.75,"cv":0.29},{"r":0.75,"cv":0.25},
{"r":0.875,"cv":1.93},{"r":0.875,"cv":1.44},{"r":0.875,"cv":1.16},{"r":0.875,"cv":1.12},{"r":0.875,"cv":1.07},{"r":0.875,"cv":1.02},{"r":0.875,"cv":0.96},{"r":0.875,"cv":0.92},{"r":0.875,"cv":0.86},{"r":0.875,"cv":0.8},{"r":0.875,"cv":0.75},{"r":0.875,"cv":0.7},{"r":0.875,"cv":0.66},{"r":0.875,"cv":0.62},{"r":0.875,"cv":0.58},{"r":0.875,"cv":0.53},{"r":0.875,"cv":0.48},{"r":0.875,"cv":0.42},{"r":0.875,"cv":0.37},{"r":0.875,"cv":0.32},{"r":0.875,"cv":0.28},
{"r":1,"cv":1.37},{"r":1,"cv":1.02},{"r":1,"cv":0.96},{"r":1,"cv":0.9},{"r":1,"cv":0.84},{"r":1,"cv":0.79},{"r":1,"cv":0.74},{"r":1,"cv":0.69},{"r":1,"cv":0.64},{"r":1,"cv":0.59},{"r":1,"cv":0.54},{"r":1,"cv":0.49},{"r":1,"cv":0.44},{"r":1,"cv":0.39},{"r":1,"cv":0.34},{"r":1,"cv":0.3},
{"r":1.125,"cv":1.05},{"r":1.125,"cv":0.98},{"r":1.125,"cv":0.9},{"r":1.125,"cv":0.8},{"r":1.125,"cv":0.72},{"r":1.125,"cv":0.65},{"r":1.125,"cv":0.55},{"r":1.125,"cv":0.28},
{"r":1.25,"cv":1.07},{"r":1.25,"cv":1},{"r":1.25,"cv":0.93},{"r":1.25,"cv":0.84},{"r":1.25,"cv":0.76},{"r":1.25,"cv":0.48},
{"r":1.375,"cv":1.85},{"r":1.375,"cv":1.15},{"r":1.375,"cv":1.12},{"r":1.375,"cv":0.77},{"r":1.375,"cv":0.56},{"r":1.375,"cv":0.5},
{"r":1.5,"cv":0.66},{"r":1.5,"cv":0.58},{"r":1.5,"cv":0.5},{"r":1.5,"cv":0.44},
{"r":1.625,"cv":1.26},{"r":1.625,"cv":1.17},{"r":1.625,"cv":1.1},{"r":1.625,"cv":0.89},{"r":1.625,"cv":0.74},{"r":1.625,"cv":0.68},{"r":1.625,"cv":0.6},{"r":1.625,"cv":0.53},{"r":1.625,"cv":0.46},{"r":1.625,"cv":0.42},{"r":1.625,"cv":0.36},
{"r":1.75,"cv":1},{"r":1.75,"cv":0.74},{"r":1.75,"cv":0.67},{"r":1.75,"cv":0.39},
{"r":1.875,"cv":1.15},{"r":1.875,"cv":0.82},{"r":1.875,"cv":0.72},{"r":1.875,"cv":0.64},{"r":1.875,"cv":0.58},{"r":1.875,"cv":0.53},
{"r":2,"cv":1.42},{"r":2,"cv":0.9},{"r":2,"cv":0.75},{"r":2,"cv":0.68},{"r":2,"cv":0.58},{"r":2,"cv":0.48},
{"r":2.125,"cv":1.03},{"r":2.125,"cv":0.62},{"r":2.125,"cv":0.57},{"r":2.125,"cv":0.52},
{"r":2.25,"cv":0.57},{"r":2.25,"cv":0.52},{"r":2.375,"cv":1.01},{"r":2.375,"cv":0.76},{"r":2.5,"cv":1.04},{"r":2.5,"cv":0.55},{"r":2.625,"cv":0.44},
{"r":2.75,"cv":0.99},{"r":2.75,"cv":0.9},{"r":2.75,"cv":0.82},{"r":2.875,"cv":1.13},{"r":2.875,"cv":0.47},
{"r":3,"cv":0.87},{"r":3,"cv":0.74},{"r":3,"cv":0.54},{"r":3,"cv":0.27},{"r":3.125,"cv":0.82},{"r":3.125,"cv":0.45},{"r":3.125,"cv":0.39},{"r":3.25,"cv":0.79},{"r":3.5,"cv":0.63},{"r":3.75,"cv":0.68}],
"evoked":[{"rp":0.2,"cv":0.51},{"rp":0.2,"cv":0.38},{"rp":0.2,"cv":0.33},{"rp":0.2,"cv":0.28},{"rp":0.2,"cv":0.22},{"rp":0.2,"cv":0.13},{"rp":0.2,"cv":0.03},
{"rp":0.267,"cv":0.57},{"rp":0.267,"cv":0.48},{"rp":0.267,"cv":0.44},{"rp":0.267,"cv":0.4},{"rp":0.267,"cv":0.37},{"rp":0.267,"cv":0.26},{"rp":0.267,"cv":0.15},
{"rp":0.333,"cv":0.78},{"rp":0.333,"cv":0.65},{"rp":0.333,"cv":0.55},{"rp":0.333,"cv":0.52},{"rp":0.333,"cv":0.5},{"rp":0.333,"cv":0.35},{"rp":0.333,"cv":0.15},{"rp":0.333,"cv":0.12},
{"rp":0.4,"cv":0.85},{"rp":0.4,"cv":0.72},{"rp":0.4,"cv":0.62},{"rp":0.4,"cv":0.58},{"rp":0.4,"cv":0.55},{"rp":0.4,"cv":0.5},{"rp":0.4,"cv":0.45},{"rp":0.4,"cv":0.42},{"rp":0.4,"cv":0.38},{"rp":0.4,"cv":0.33},{"rp":0.4,"cv":0.28},{"rp":0.4,"cv":0.23},{"rp":0.4,"cv":0.18},{"rp":0.4,"cv":0.14},{"rp":0.4,"cv":0.1},{"rp":0.4,"cv":0.06},{"rp":0.4,"cv":0.03},
{"rp":0.467,"cv":0.77},{"rp":0.467,"cv":0.67},{"rp":0.467,"cv":0.63},{"rp":0.467,"cv":0.6},{"rp":0.467,"cv":0.55},{"rp":0.467,"cv":0.5},{"rp":0.467,"cv":0.45},{"rp":0.467,"cv":0.36},{"rp":0.467,"cv":0.32},{"rp":0.467,"cv":0.27},{"rp":0.467,"cv":0.18},{"rp":0.467,"cv":0.12},{"rp":0.467,"cv":0.07},{"rp":0.467,"cv":0.03},
{"rp":0.533,"cv":0.8},{"rp":0.533,"cv":0.64},{"rp":0.533,"cv":0.5},{"rp":0.533,"cv":0.45},{"rp":0.533,"cv":0.41},{"rp":0.533,"cv":0.37},{"rp":0.533,"cv":0.2},
{"rp":0.6,"cv":0.8},{"rp":0.6,"cv":0.74},{"rp":0.6,"cv":0.68},{"rp":0.6,"cv":0.55},{"rp":0.6,"cv":0.51},
{"rp":0.667,"cv":0.64},{"rp":0.667,"cv":0.61},{"rp":0.667,"cv":0.57},{"rp":0.667,"cv":0.53},{"rp":0.667,"cv":0.5},{"rp":0.667,"cv":0.47},{"rp":0.667,"cv":0.44},{"rp":0.667,"cv":0.4},{"rp":0.667,"cv":0.36},
{"rp":0.733,"cv":0.78},{"rp":0.733,"cv":0.64},{"rp":0.733,"cv":0.58},{"rp":0.733,"cv":0.53},{"rp":0.733,"cv":0.48},{"rp":0.733,"cv":0.44},{"rp":0.733,"cv":0.38},{"rp":0.733,"cv":0.16},
{"rp":0.8,"cv":0.75},{"rp":0.8,"cv":0.63},{"rp":0.8,"cv":0.59},{"rp":0.8,"cv":0.55},{"rp":0.8,"cv":0.5},{"rp":0.8,"cv":0.46},{"rp":0.8,"cv":0.41},{"rp":0.8,"cv":0.37},{"rp":0.8,"cv":0.26},{"rp":0.8,"cv":0.2},{"rp":0.8,"cv":0.16},
{"rp":0.867,"cv":0.83},{"rp":0.867,"cv":0.78},{"rp":0.867,"cv":0.72},{"rp":0.867,"cv":0.65},{"rp":0.867,"cv":0.61},{"rp":0.867,"cv":0.57},{"rp":0.867,"cv":0.53},{"rp":0.867,"cv":0.5},{"rp":0.867,"cv":0.46},{"rp":0.867,"cv":0.42},{"rp":0.867,"cv":0.38},{"rp":0.867,"cv":0.33},{"rp":0.867,"cv":0.27},{"rp":0.867,"cv":0.2},{"rp":0.867,"cv":0.09},
{"rp":0.933,"cv":0.76},{"rp":0.933,"cv":0.6},{"rp":0.933,"cv":0.52},{"rp":0.933,"cv":0.5},{"rp":0.933,"cv":0.3},{"rp":0.933,"cv":0.18},{"rp":0.933,"cv":0.15},{"rp":0.933,"cv":0.08},
{"rp":1,"cv":0.62},{"rp":1,"cv":0.3},{"rp":1,"cv":0.27},{"rp":1,"cv":0.22}],
"fitC":[{"r":0.35,"cv":0.69},{"r":3.75,"cv":0.79}],
"fitD":[{"rp":0.2,"cv":0.355},{"rp":1,"cv":0.47}]
},
"vconcat":[
{"width":617,"height":165,"layer":[
{"data":{"values":[{}]},"mark":{"type":"text","text":"A","align":"left","fontSize":18,"color":"#231f20"},"encoding":{"x":{"datum":-14.2,"scale":{"domain":[-15,108.4],"nice":false,"zero":false},"axis":null},"y":{"datum":116.5,"scale":{"domain":[-35,130],"nice":false,"zero":false},"axis":null}}},
{"data":{"values":[{}]},"mark":{"type":"text","text":"Whole cell current clamp:","align":"left","fontSize":15,"color":"#231f20"},"encoding":{"x":{"datum":-7.4,"scale":{"domain":[-15,108.4],"nice":false,"zero":false},"axis":null},"y":{"datum":97,"scale":{"domain":[-35,130],"nice":false,"zero":false},"axis":null}}},
{"data":{"values":[{}]},"mark":{"type":"text","text":"spontaneously occurring AP","align":"left","fontSize":12,"color":"#231f20"},"encoding":{"x":{"datum":-0.8,"scale":{"domain":[-15,108.4],"nice":false,"zero":false},"axis":null},"y":{"datum":68,"scale":{"domain":[-35,130],"nice":false,"zero":false},"axis":null}}},
{"data":{"values":[{}]},"mark":{"type":"text","text":"Cell 1","align":"left","fontSize":13.5,"color":"#231f20"},"encoding":{"x":{"datum":-7.4,"scale":{"domain":[-15,108.4],"nice":false,"zero":false},"axis":null},"y":{"datum":2,"scale":{"domain":[-35,130],"nice":false,"zero":false},"axis":null}}},
{"data":{"name":"cell1"},"mark":{"type":"line","color":"#111111","strokeWidth":1.5},"encoding":{"x":{"field":"t","type":"quantitative","scale":{"domain":[-15,108.4],"nice":false,"zero":false},"axis":null},"y":{"field":"v","type":"quantitative","scale":{"domain":[-35,130],"nice":false,"zero":false},"axis":null}}},
{"data":{"name":"ap1"},"mark":{"type":"point","shape":"M-0.18,-1L0.18,-1L0.18,0.05L0.62,0.05L0,1L-0.62,0.05L-0.18,0.05Z","filled":true,"size":110,"color":"#231f20","opacity":1,"yOffset":-6},"encoding":{"x":{"field":"t","type":"quantitative","scale":{"domain":[-15,108.4],"nice":false,"zero":false},"axis":null},"y":{"field":"v","type":"quantitative","scale":{"domain":[-35,130],"nice":false,"zero":false},"axis":null}}},
{"data":{"name":"drug"},"mark":{"type":"rule","color":"#35b574","strokeWidth":4.5},"encoding":{"x":{"field":"start","type":"quantitative","scale":{"domain":[-15,108.4],"nice":false,"zero":false},"axis":null},"x2":{"field":"end"},"y":{"datum":-14,"scale":{"domain":[-35,130],"nice":false,"zero":false},"axis":null}}},
{"data":{"values":[{}]},"mark":{"type":"text","text":"Muscimol + NBQX","align":"left","fontSize":11.5,"color":"#21905a"},"encoding":{"x":{"datum":22.2,"scale":{"domain":[-15,108.4],"nice":false,"zero":false},"axis":null},"y":{"datum":-27,"scale":{"domain":[-35,130],"nice":false,"zero":false},"axis":null}}}
]},
{"width":617,"height":135,"layer":[
{"data":{"values":[{}]},"mark":{"type":"text","text":"Cell 2","align":"left","fontSize":13.5,"color":"#231f20"},"encoding":{"x":{"datum":-7.4,"scale":{"domain":[-15,108.4],"nice":false,"zero":false},"axis":null},"y":{"datum":33,"scale":{"domain":[-34,101],"nice":false,"zero":false},"axis":null}}},
{"data":{"name":"cell2"},"mark":{"type":"line","color":"#111111","strokeWidth":1.3},"encoding":{"x":{"field":"t","type":"quantitative","scale":{"domain":[-15,108.4],"nice":false,"zero":false},"axis":null},"y":{"field":"v","type":"quantitative","scale":{"domain":[-34,101],"nice":false,"zero":false},"axis":null}}},
{"data":{"name":"ap2"},"mark":{"type":"point","shape":"M-0.18,-1L0.18,-1L0.18,0.05L0.62,0.05L0,1L-0.62,0.05L-0.18,0.05Z","filled":true,"size":110,"color":"#231f20","opacity":1,"yOffset":-5.5},"encoding":{"x":{"field":"t","type":"quantitative","scale":{"domain":[-15,108.4],"nice":false,"zero":false},"axis":null},"y":{"field":"v","type":"quantitative","scale":{"domain":[-34,101],"nice":false,"zero":false},"axis":null}}},
{"data":{"name":"drug"},"mark":{"type":"rule","color":"#35b574","strokeWidth":4.5},"encoding":{"x":{"field":"start","type":"quantitative","scale":{"domain":[-15,108.4],"nice":false,"zero":false},"axis":null},"x2":{"field":"end"},"y":{"datum":-7,"scale":{"domain":[-34,101],"nice":false,"zero":false},"axis":null}}},
{"data":{"values":[{}]},"mark":{"type":"text","text":"Muscimol + NBQX","align":"left","fontSize":11.5,"color":"#21905a"},"encoding":{"x":{"datum":22.2,"scale":{"domain":[-15,108.4],"nice":false,"zero":false},"axis":null},"y":{"datum":-21,"scale":{"domain":[-34,101],"nice":false,"zero":false},"axis":null}}},
{"data":{"values":[{}]},"mark":{"type":"rule","color":"#231f20","strokeWidth":1.2},"encoding":{"x":{"datum":-0.6,"scale":{"domain":[-15,108.4],"nice":false,"zero":false},"axis":null},"y":{"datum":-9,"scale":{"domain":[-34,101],"nice":false,"zero":false},"axis":null},"y2":{"datum":1}}},
{"data":{"values":[{}]},"mark":{"type":"rule","color":"#231f20","strokeWidth":1.2},"encoding":{"x":{"datum":-0.6,"scale":{"domain":[-15,108.4],"nice":false,"zero":false},"axis":null},"x2":{"datum":4.4},"y":{"datum":-9,"scale":{"domain":[-34,101],"nice":false,"zero":false},"axis":null}}},
{"data":{"values":[{}]},"mark":{"type":"text","text":"10 mV","angle":270,"fontSize":11,"color":"#231f20"},"encoding":{"x":{"datum":-2.4,"scale":{"domain":[-15,108.4],"nice":false,"zero":false},"axis":null},"y":{"datum":-3,"scale":{"domain":[-34,101],"nice":false,"zero":false},"axis":null}}},
{"data":{"values":[{}]},"mark":{"type":"text","text":"5 sec","align":"left","fontSize":11.5,"color":"#231f20"},"encoding":{"x":{"datum":-0.6,"scale":{"domain":[-15,108.4],"nice":false,"zero":false},"axis":null},"y":{"datum":-18,"scale":{"domain":[-34,101],"nice":false,"zero":false},"axis":null}}}
]},
{"width":617,"height":140,"layer":[
{"data":{"values":[{}]},"mark":{"type":"text","text":"B","align":"left","fontSize":18,"color":"#231f20"},"encoding":{"x":{"datum":-33.26,"scale":{"domain":[-35,233.26],"nice":false,"zero":false},"axis":null},"y":{"datum":1.02,"scale":{"domain":[-0.18,1.22],"nice":false,"zero":false},"axis":null}}},
{"data":{"values":[{}]},"mark":{"type":"text","text":"Fluo-4 AM Imaging:","align":"left","fontSize":15,"color":"#231f20"},"encoding":{"x":{"datum":-18.48,"scale":{"domain":[-35,233.26],"nice":false,"zero":false},"axis":null},"y":{"datum":0.77,"scale":{"domain":[-0.18,1.22],"nice":false,"zero":false},"axis":null}}},
{"data":{"values":[{}]},"mark":{"type":"text","text":"0.1 Hz Stimulation","align":"left","fontSize":12,"color":"#e6283c"},"encoding":{"x":{"datum":57.6,"scale":{"domain":[-35,233.26],"nice":false,"zero":false},"axis":null},"y":{"datum":0.65,"scale":{"domain":[-0.18,1.22],"nice":false,"zero":false},"axis":null}}},
{"data":{"name":"stim"},"transform":[{"filter":"datum.p=='pre'"}],"mark":{"type":"square","size":6,"color":"#e6283c","opacity":1},"encoding":{"x":{"field":"t","type":"quantitative","scale":{"domain":[-35,233.26],"nice":false,"zero":false},"axis":null},"y":{"datum":0.48,"scale":{"domain":[-0.18,1.22],"nice":false,"zero":false},"axis":null}}},
{"data":{"values":[{}]},"mark":{"type":"text","text":"Cell 3","align":"right","fontSize":12,"color":"#231f20"},"encoding":{"x":{"datum":-3.7,"scale":{"domain":[-35,233.26],"nice":false,"zero":false},"axis":null},"y":{"datum":0.26,"scale":{"domain":[-0.18,1.22],"nice":false,"zero":false},"axis":null}}},
{"data":{"values":[{}]},"mark":{"type":"text","text":"Soma","align":"right","fontSize":12,"color":"#231f20"},"encoding":{"x":{"datum":-3.7,"scale":{"domain":[-35,233.26],"nice":false,"zero":false},"axis":null},"y":{"datum":0.12,"scale":{"domain":[-0.18,1.22],"nice":false,"zero":false},"axis":null}}},
{"data":{"name":"c3s"},"mark":{"type":"line","color":"#111111","strokeWidth":1.2},"encoding":{"x":{"field":"t","type":"quantitative","scale":{"domain":[-35,233.26],"nice":false,"zero":false},"axis":null},"y":{"field":"f","type":"quantitative","scale":{"domain":[-0.18,1.22],"nice":false,"zero":false},"axis":null}}},
{"data":{"values":[{}]},"mark":{"type":"text","text":"+ NBQX + Muscimol","align":"left","fontSize":12.5,"color":"#231f20"},"encoding":{"x":{"datum":117.6,"scale":{"domain":[-35,233.26],"nice":false,"zero":false},"axis":null},"y":{"datum":0.41,"scale":{"domain":[-0.18,1.22],"nice":false,"zero":false},"axis":null}}},
{"data":{"values":[{}]},"mark":{"type":"text","text":"0.1 Hz Stimulation","align":"left","fontSize":12,"color":"#e6283c"},"encoding":{"x":{"datum":177.6,"scale":{"domain":[-35,233.26],"nice":false,"zero":false},"axis":null},"y":{"datum":0.43,"scale":{"domain":[-0.18,1.22],"nice":false,"zero":false},"axis":null}}},
{"data":{"name":"stim"},"transform":[{"filter":"datum.p=='post'"}],"mark":{"type":"square","size":6,"color":"#e6283c","opacity":1},"encoding":{"x":{"field":"t","type":"quantitative","scale":{"domain":[-35,233.26],"nice":false,"zero":false},"axis":null},"y":{"datum":0.16,"scale":{"domain":[-0.18,1.22],"nice":false,"zero":false},"axis":null}}},
{"data":{"name":"g3s"},"mark":{"type":"line","color":"#2bb05a","strokeWidth":1.2},"encoding":{"x":{"field":"t","type":"quantitative","scale":{"domain":[-35,233.26],"nice":false,"zero":false},"axis":null},"y":{"field":"f","type":"quantitative","scale":{"domain":[-0.18,1.22],"nice":false,"zero":false},"axis":null}}},
{"data":{"values":[{}]},"mark":{"type":"rule","color":"#111111","strokeWidth":1.3},"encoding":{"x":{"datum":108.5,"scale":{"domain":[-35,233.26],"nice":false,"zero":false},"axis":null},"x2":{"datum":114},"y":{"datum":0.01,"scale":{"domain":[-0.18,1.22],"nice":false,"zero":false},"axis":null}}},
{"data":{"values":[{}]},"mark":{"type":"point","shape":"triangle-right","filled":true,"size":36,"color":"#111111","opacity":1},"encoding":{"x":{"datum":114.5,"scale":{"domain":[-35,233.26],"nice":false,"zero":false},"axis":null},"y":{"datum":0.01,"scale":{"domain":[-0.18,1.22],"nice":false,"zero":false},"axis":null}}}
]},
{"width":617,"height":100,"layer":[
{"data":{"name":"stim"},"transform":[{"filter":"datum.p=='pre'"}],"mark":{"type":"square","size":6,"color":"#e6283c","opacity":1},"encoding":{"x":{"field":"t","type":"quantitative","scale":{"domain":[-35,233.26],"nice":false,"zero":false},"axis":null},"y":{"datum":0.52,"scale":{"domain":[-0.37,0.63],"nice":false,"zero":false},"axis":null}}},
{"data":{"name":"stim"},"transform":[{"filter":"datum.p=='post'"}],"mark":{"type":"square","size":6,"color":"#e6283c","opacity":1},"encoding":{"x":{"field":"t","type":"quantitative","scale":{"domain":[-35,233.26],"nice":false,"zero":false},"axis":null},"y":{"datum":0.48,"scale":{"domain":[-0.37,0.63],"nice":false,"zero":false},"axis":null}}},
{"data":{"values":[{}]},"mark":{"type":"text","text":"Cell 3","align":"right","fontSize":12.5,"color":"#231f20"},"encoding":{"x":{"datum":-3.7,"scale":{"domain":[-35,233.26],"nice":false,"zero":false},"axis":null},"y":{"datum":0.375,"scale":{"domain":[-0.37,0.63],"nice":false,"zero":false},"axis":null}}},
{"data":{"values":[{}]},"mark":{"type":"text","text":"Dendrite","align":"right","fontSize":12.5,"color":"#231f20"},"encoding":{"x":{"datum":-3.7,"scale":{"domain":[-35,233.26],"nice":false,"zero":false},"axis":null},"y":{"datum":0.205,"scale":{"domain":[-0.37,0.63],"nice":false,"zero":false},"axis":null}}},
{"data":{"name":"c3d"},"mark":{"type":"line","color":"#111111","strokeWidth":1.2},"encoding":{"x":{"field":"t","type":"quantitative","scale":{"domain":[-35,233.26],"nice":false,"zero":false},"axis":null},"y":{"field":"f","type":"quantitative","scale":{"domain":[-0.37,0.63],"nice":false,"zero":false},"axis":null}}},
{"data":{"name":"g3d"},"mark":{"type":"line","color":"#2bb05a","strokeWidth":1.2},"encoding":{"x":{"field":"t","type":"quantitative","scale":{"domain":[-35,233.26],"nice":false,"zero":false},"axis":null},"y":{"field":"f","type":"quantitative","scale":{"domain":[-0.37,0.63],"nice":false,"zero":false},"axis":null}}},
{"data":{"values":[{}]},"mark":{"type":"rule","color":"#111111","strokeWidth":1.3},"encoding":{"x":{"datum":108.5,"scale":{"domain":[-35,233.26],"nice":false,"zero":false},"axis":null},"x2":{"datum":114},"y":{"datum":0.03,"scale":{"domain":[-0.37,0.63],"nice":false,"zero":false},"axis":null}}},
{"data":{"values":[{}]},"mark":{"type":"point","shape":"triangle-right","filled":true,"size":36,"color":"#111111","opacity":1},"encoding":{"x":{"datum":114.5,"scale":{"domain":[-35,233.26],"nice":false,"zero":false},"axis":null},"y":{"datum":0.03,"scale":{"domain":[-0.37,0.63],"nice":false,"zero":false},"axis":null}}},
{"data":{"values":[{}]},"mark":{"type":"rule","color":"#231f20","strokeWidth":1.2},"encoding":{"x":{"datum":-1.96,"scale":{"domain":[-35,233.26],"nice":false,"zero":false},"axis":null},"y":{"datum":-0.17,"scale":{"domain":[-0.37,0.63],"nice":false,"zero":false},"axis":null},"y2":{"datum":-0.07}}},
{"data":{"values":[{}]},"mark":{"type":"rule","color":"#231f20","strokeWidth":1.2},"encoding":{"x":{"datum":-1.96,"scale":{"domain":[-35,233.26],"nice":false,"zero":false},"axis":null},"x2":{"datum":8.04},"y":{"datum":-0.17,"scale":{"domain":[-0.37,0.63],"nice":false,"zero":false},"axis":null}}},
{"data":{"values":[{}]},"mark":{"type":"text","text":"10 sec","align":"left","fontSize":12,"color":"#231f20"},"encoding":{"x":{"datum":-1.09,"scale":{"domain":[-35,233.26],"nice":false,"zero":false},"axis":null},"y":{"datum":-0.28,"scale":{"domain":[-0.37,0.63],"nice":false,"zero":false},"axis":null}}},
{"data":{"values":[{}]},"mark":{"type":"text","text":"0.1 ΔF/F₀","angle":270,"fontSize":12,"color":"#231f20"},"encoding":{"x":{"datum":-5.87,"scale":{"domain":[-35,233.26],"nice":false,"zero":false},"axis":null},"y":{"datum":-0.18,"scale":{"domain":[-0.37,0.63],"nice":false,"zero":false},"axis":null}}}
]},
{"width":617,"height":57,"layer":[
{"data":{"values":[{}]},"mark":{"type":"text","text":"0.1 Hz Stimulation","align":"left","fontSize":12,"color":"#e6283c"},"encoding":{"x":{"datum":57.17,"scale":{"domain":[-35,233.26],"nice":false,"zero":false},"axis":null},"y":{"datum":0.45,"scale":{"domain":[-0.07,0.5],"nice":false,"zero":false},"axis":null}}},
{"data":{"name":"stim"},"transform":[{"filter":"datum.p=='pre'"}],"mark":{"type":"square","size":6,"color":"#e6283c","opacity":1},"encoding":{"x":{"field":"t","type":"quantitative","scale":{"domain":[-35,233.26],"nice":false,"zero":false},"axis":null},"y":{"datum":0.26,"scale":{"domain":[-0.07,0.5],"nice":false,"zero":false},"axis":null}}},
{"data":{"name":"stim"},"transform":[{"filter":"datum.p=='post'"}],"mark":{"type":"square","size":6,"color":"#e6283c","opacity":1},"encoding":{"x":{"field":"t","type":"quantitative","scale":{"domain":[-35,233.26],"nice":false,"zero":false},"axis":null},"y":{"datum":0.12,"scale":{"domain":[-0.07,0.5],"nice":false,"zero":false},"axis":null}}},
{"data":{"values":[{}]},"mark":{"type":"text","text":"Cell 4","align":"right","fontSize":12.5,"color":"#231f20"},"encoding":{"x":{"datum":-3.7,"scale":{"domain":[-35,233.26],"nice":false,"zero":false},"axis":null},"y":{"datum":0.175,"scale":{"domain":[-0.07,0.5],"nice":false,"zero":false},"axis":null}}},
{"data":{"values":[{}]},"mark":{"type":"text","text":"Soma","align":"right","fontSize":12.5,"color":"#231f20"},"encoding":{"x":{"datum":-3.7,"scale":{"domain":[-35,233.26],"nice":false,"zero":false},"axis":null},"y":{"datum":0.025,"scale":{"domain":[-0.07,0.5],"nice":false,"zero":false},"axis":null}}},
{"data":{"values":[{}]},"mark":{"type":"text","text":"+ NBQX + Muscimol","align":"left","fontSize":12.5,"color":"#231f20"},"encoding":{"x":{"datum":117.17,"scale":{"domain":[-35,233.26],"nice":false,"zero":false},"axis":null},"y":{"datum":0.31,"scale":{"domain":[-0.07,0.5],"nice":false,"zero":false},"axis":null}}},
{"data":{"values":[{}]},"mark":{"type":"text","text":"0.1 Hz Stimulation","align":"left","fontSize":12,"color":"#e6283c"},"encoding":{"x":{"datum":179.35,"scale":{"domain":[-35,233.26],"nice":false,"zero":false},"axis":null},"y":{"datum":0.3,"scale":{"domain":[-0.07,0.5],"nice":false,"zero":false},"axis":null}}},
{"data":{"name":"c4s"},"mark":{"type":"line","color":"#111111","strokeWidth":1.2},"encoding":{"x":{"field":"t","type":"quantitative","scale":{"domain":[-35,233.26],"nice":false,"zero":false},"axis":null},"y":{"field":"f","type":"quantitative","scale":{"domain":[-0.07,0.5],"nice":false,"zero":false},"axis":null}}},
{"data":{"name":"g4s"},"mark":{"type":"line","color":"#2bb05a","strokeWidth":1.2},"encoding":{"x":{"field":"t","type":"quantitative","scale":{"domain":[-35,233.26],"nice":false,"zero":false},"axis":null},"y":{"field":"f","type":"quantitative","scale":{"domain":[-0.07,0.5],"nice":false,"zero":false},"axis":null}}},
{"data":{"values":[{}]},"mark":{"type":"rule","color":"#111111","strokeWidth":1.3},"encoding":{"x":{"datum":108.5,"scale":{"domain":[-35,233.26],"nice":false,"zero":false},"axis":null},"x2":{"datum":114},"y":{"datum":-0.01,"scale":{"domain":[-0.07,0.5],"nice":false,"zero":false},"axis":null}}},
{"data":{"values":[{}]},"mark":{"type":"point","shape":"triangle-right","filled":true,"size":36,"color":"#111111","opacity":1},"encoding":{"x":{"datum":114.5,"scale":{"domain":[-35,233.26],"nice":false,"zero":false},"axis":null},"y":{"datum":-0.01,"scale":{"domain":[-0.07,0.5],"nice":false,"zero":false},"axis":null}}}
]},
{"width":617,"height":108,"layer":[
{"data":{"name":"stim"},"transform":[{"filter":"datum.p=='pre'"}],"mark":{"type":"square","size":6,"color":"#e6283c","opacity":1},"encoding":{"x":{"field":"t","type":"quantitative","scale":{"domain":[-35,233.26],"nice":false,"zero":false},"axis":null},"y":{"datum":0.61,"scale":{"domain":[-0.43,0.65],"nice":false,"zero":false},"axis":null}}},
{"data":{"name":"stim"},"transform":[{"filter":"datum.p=='post'"}],"mark":{"type":"square","size":6,"color":"#e6283c","opacity":1},"encoding":{"x":{"field":"t","type":"quantitative","scale":{"domain":[-35,233.26],"nice":false,"zero":false},"axis":null},"y":{"datum":0.38,"scale":{"domain":[-0.43,0.65],"nice":false,"zero":false},"axis":null}}},
{"data":{"values":[{}]},"mark":{"type":"text","text":"Cell 4","align":"right","fontSize":12.5,"color":"#231f20"},"encoding":{"x":{"datum":-3.7,"scale":{"domain":[-35,233.26],"nice":false,"zero":false},"axis":null},"y":{"datum":0.355,"scale":{"domain":[-0.43,0.65],"nice":false,"zero":false},"axis":null}}},
{"data":{"values":[{}]},"mark":{"type":"text","text":"Dendrite","align":"right","fontSize":12.5,"color":"#231f20"},"encoding":{"x":{"datum":-3.7,"scale":{"domain":[-35,233.26],"nice":false,"zero":false},"axis":null},"y":{"datum":0.185,"scale":{"domain":[-0.43,0.65],"nice":false,"zero":false},"axis":null}}},
{"data":{"name":"c4d"},"mark":{"type":"line","color":"#111111","strokeWidth":1.2},"encoding":{"x":{"field":"t","type":"quantitative","scale":{"domain":[-35,233.26],"nice":false,"zero":false},"axis":null},"y":{"field":"f","type":"quantitative","scale":{"domain":[-0.43,0.65],"nice":false,"zero":false},"axis":null}}},
{"data":{"name":"g4d"},"mark":{"type":"line","color":"#2bb05a","strokeWidth":1.2},"encoding":{"x":{"field":"t","type":"quantitative","scale":{"domain":[-35,233.26],"nice":false,"zero":false},"axis":null},"y":{"field":"f","type":"quantitative","scale":{"domain":[-0.43,0.65],"nice":false,"zero":false},"axis":null}}},
{"data":{"values":[{}]},"mark":{"type":"rule","color":"#111111","strokeWidth":1.3},"encoding":{"x":{"datum":108.5,"scale":{"domain":[-35,233.26],"nice":false,"zero":false},"axis":null},"x2":{"datum":114},"y":{"datum":-0.02,"scale":{"domain":[-0.43,0.65],"nice":false,"zero":false},"axis":null}}},
{"data":{"values":[{}]},"mark":{"type":"point","shape":"triangle-right","filled":true,"size":36,"color":"#111111","opacity":1},"encoding":{"x":{"datum":114.5,"scale":{"domain":[-35,233.26],"nice":false,"zero":false},"axis":null},"y":{"datum":-0.02,"scale":{"domain":[-0.43,0.65],"nice":false,"zero":false},"axis":null}}},
{"data":{"values":[{}]},"mark":{"type":"rule","color":"#231f20","strokeWidth":1.2},"encoding":{"x":{"datum":-2.39,"scale":{"domain":[-35,233.26],"nice":false,"zero":false},"axis":null},"y":{"datum":-0.17,"scale":{"domain":[-0.43,0.65],"nice":false,"zero":false},"axis":null},"y2":{"datum":-0.07}}},
{"data":{"values":[{}]},"mark":{"type":"rule","color":"#231f20","strokeWidth":1.2},"encoding":{"x":{"datum":-2.39,"scale":{"domain":[-35,233.26],"nice":false,"zero":false},"axis":null},"x2":{"datum":7.61},"y":{"datum":-0.17,"scale":{"domain":[-0.43,0.65],"nice":false,"zero":false},"axis":null}}},
{"data":{"values":[{}]},"mark":{"type":"text","text":"10 sec","align":"left","fontSize":12,"color":"#231f20"},"encoding":{"x":{"datum":-1.52,"scale":{"domain":[-35,233.26],"nice":false,"zero":false},"axis":null},"y":{"datum":-0.31,"scale":{"domain":[-0.43,0.65],"nice":false,"zero":false},"axis":null}}},
{"data":{"values":[{}]},"mark":{"type":"text","text":"0.1 ΔF/F₀","angle":270,"fontSize":12,"color":"#231f20"},"encoding":{"x":{"datum":-6.3,"scale":{"domain":[-35,233.26],"nice":false,"zero":false},"axis":null},"y":{"datum":-0.19,"scale":{"domain":[-0.43,0.65],"nice":false,"zero":false},"axis":null}}}
]},
{"hconcat":[
{"width":38.3,"height":10,"data":{"values":[{}]},"mark":{"type":"point","opacity":0},"encoding":{}},
{"width":265,"height":165,"layer":[
{"data":{"name":"spont"},"mark":{"type":"circle","size":66,"fill":"#a8a8a8","fillOpacity":0.45,"stroke":"#4d4d4d","strokeWidth":0.8,"strokeOpacity":0.75},"encoding":{"x":{"field":"r","type":"quantitative","scale":{"domain":[0,4],"nice":false,"zero":false},"axis":{"values":[0,0.5,1,1.5,2,2.5,3,3.5,4],"format":"~g","title":"events/min"}},"y":{"field":"cv","type":"quantitative","scale":{"domain":[0,2],"range":[165,36.7],"nice":false,"zero":false},"axis":{"values":[0,0.5,1,1.5,2],"format":"~g","title":"Cᵥ of amplitudes"}}}},
{"data":{"name":"fitC"},"mark":{"type":"line","color":"#111111","strokeWidth":1.3},"encoding":{"x":{"field":"r","type":"quantitative","scale":{"domain":[0,4],"nice":false,"zero":false},"axis":{"values":[0,0.5,1,1.5,2,2.5,3,3.5,4],"format":"~g","title":"events/min"}},"y":{"field":"cv","type":"quantitative","scale":{"domain":[0,2],"range":[165,36.7],"nice":false,"zero":false},"axis":{"values":[0,0.5,1,1.5,2],"format":"~g","title":"Cᵥ of amplitudes"}}}},
{"data":{"values":[{}]},"mark":{"type":"text","text":"C","align":"left","fontSize":18,"color":"#231f20"},"encoding":{"x":{"datum":-0.525,"scale":{"domain":[0,4],"nice":false,"zero":false},"axis":{"values":[0,0.5,1,1.5,2,2.5,3,3.5,4],"format":"~g","title":"events/min"}},"y":{"datum":2.385,"scale":{"domain":[0,2],"range":[165,36.7],"nice":false,"zero":false},"axis":{"values":[0,0.5,1,1.5,2],"format":"~g","title":"Cᵥ of amplitudes"}}}},
{"data":{"values":[{}]},"mark":{"type":"text","text":"spontaneous events","align":"left","fontSize":13.5,"color":"#231f20"},"encoding":{"x":{"datum":0.1,"scale":{"domain":[0,4],"nice":false,"zero":false},"axis":{"values":[0,0.5,1,1.5,2,2.5,3,3.5,4],"format":"~g","title":"events/min"}},"y":{"datum":2.1,"scale":{"domain":[0,2],"range":[165,36.7],"nice":false,"zero":false},"axis":{"values":[0,0.5,1,1.5,2],"format":"~g","title":"Cᵥ of amplitudes"}}}},
{"data":{"values":[{}]},"mark":{"type":"text","text":"y = 0.03x + 0.68","align":"right","fontSize":10.5,"color":"#231f20"},"encoding":{"x":{"datum":3.69,"scale":{"domain":[0,4],"nice":false,"zero":false},"axis":{"values":[0,0.5,1,1.5,2,2.5,3,3.5,4],"format":"~g","title":"events/min"}},"y":{"datum":1.526,"scale":{"domain":[0,2],"range":[165,36.7],"nice":false,"zero":false},"axis":{"values":[0,0.5,1,1.5,2],"format":"~g","title":"Cᵥ of amplitudes"}}}},
{"data":{"values":[{}]},"mark":{"type":"text","text":"R² = 0.005","align":"right","fontSize":10.5,"color":"#231f20"},"encoding":{"x":{"datum":3.69,"scale":{"domain":[0,4],"nice":false,"zero":false},"axis":{"values":[0,0.5,1,1.5,2,2.5,3,3.5,4],"format":"~g","title":"events/min"}},"y":{"datum":1.277,"scale":{"domain":[0,2],"range":[165,36.7],"nice":false,"zero":false},"axis":{"values":[0,0.5,1,1.5,2],"format":"~g","title":"Cᵥ of amplitudes"}}}}
]},
{"width":41.7,"height":10,"data":{"values":[{}]},"mark":{"type":"point","opacity":0},"encoding":{}},
{"width":263,"height":166,"layer":[
{"data":{"name":"evoked"},"mark":{"type":"circle","size":62,"fill":"#a8a8a8","fillOpacity":0.45,"stroke":"#4d4d4d","strokeWidth":0.8,"strokeOpacity":0.75},"encoding":{"x":{"field":"rp","type":"quantitative","scale":{"domain":[0,1.2],"nice":false,"zero":false},"axis":{"values":[0,0.2,0.4,0.6,0.8,1,1.2],"format":"~g","title":"Rₚ"}},"y":{"field":"cv","type":"quantitative","scale":{"domain":[0,2],"range":[166,46],"nice":false,"zero":false},"axis":{"values":[0,0.5,1,1.5,2],"format":"~g","title":"Cᵥ of amplitudes"}}}},
{"data":{"name":"fitD"},"mark":{"type":"line","color":"#111111","strokeWidth":1.3},"encoding":{"x":{"field":"rp","type":"quantitative","scale":{"domain":[0,1.2],"nice":false,"zero":false},"axis":{"values":[0,0.2,0.4,0.6,0.8,1,1.2],"format":"~g","title":"Rₚ"}},"y":{"field":"cv","type":"quantitative","scale":{"domain":[0,2],"range":[166,46],"nice":false,"zero":false},"axis":{"values":[0,0.5,1,1.5,2],"format":"~g","title":"Cᵥ of amplitudes"}}}},
{"data":{"values":[{}]},"mark":{"type":"text","text":"D","align":"left","fontSize":18,"color":"#231f20"},"encoding":{"x":{"datum":-0.189,"scale":{"domain":[0,1.2],"nice":false,"zero":false},"axis":{"values":[0,0.2,0.4,0.6,0.8,1,1.2],"format":"~g","title":"Rₚ"}},"y":{"datum":2.567,"scale":{"domain":[0,2],"range":[166,46],"nice":false,"zero":false},"axis":{"values":[0,0.5,1,1.5,2],"format":"~g","title":"Cᵥ of amplitudes"}}}},
{"data":{"values":[{}]},"mark":{"type":"text","text":"evoked events","align":"left","fontSize":13.5,"color":"#231f20"},"encoding":{"x":{"datum":0.023,"scale":{"domain":[0,1.2],"nice":false,"zero":false},"axis":{"values":[0,0.2,0.4,0.6,0.8,1,1.2],"format":"~g","title":"Rₚ"}},"y":{"datum":2.25,"scale":{"domain":[0,2],"range":[166,46],"nice":false,"zero":false},"axis":{"values":[0,0.5,1,1.5,2],"format":"~g","title":"Cᵥ of amplitudes"}}}},
{"data":{"values":[{}]},"mark":{"type":"text","text":"y = 0.16x + 0.34","align":"right","fontSize":10.5,"color":"#231f20"},"encoding":{"x":{"datum":1.141,"scale":{"domain":[0,1.2],"nice":false,"zero":false},"axis":{"values":[0,0.2,0.4,0.6,0.8,1,1.2],"format":"~g","title":"Rₚ"}},"y":{"datum":1.333,"scale":{"domain":[0,2],"range":[166,46],"nice":false,"zero":false},"axis":{"values":[0,0.5,1,1.5,2],"format":"~g","title":"Cᵥ of amplitudes"}}}},
{"data":{"values":[{}]},"mark":{"type":"text","text":"R² = 0.032","align":"right","fontSize":10.5,"color":"#231f20"},"encoding":{"x":{"datum":1.109,"scale":{"domain":[0,1.2],"nice":false,"zero":false},"axis":{"values":[0,0.2,0.4,0.6,0.8,1,1.2],"format":"~g","title":"Rₚ"}},"y":{"datum":1.067,"scale":{"domain":[0,2],"range":[166,46],"nice":false,"zero":false},"axis":{"values":[0,0.5,1,1.5,2],"format":"~g","title":"Cᵥ of amplitudes"}}}}
]}
],"spacing":0,"bounds":"flush"}
]
}
